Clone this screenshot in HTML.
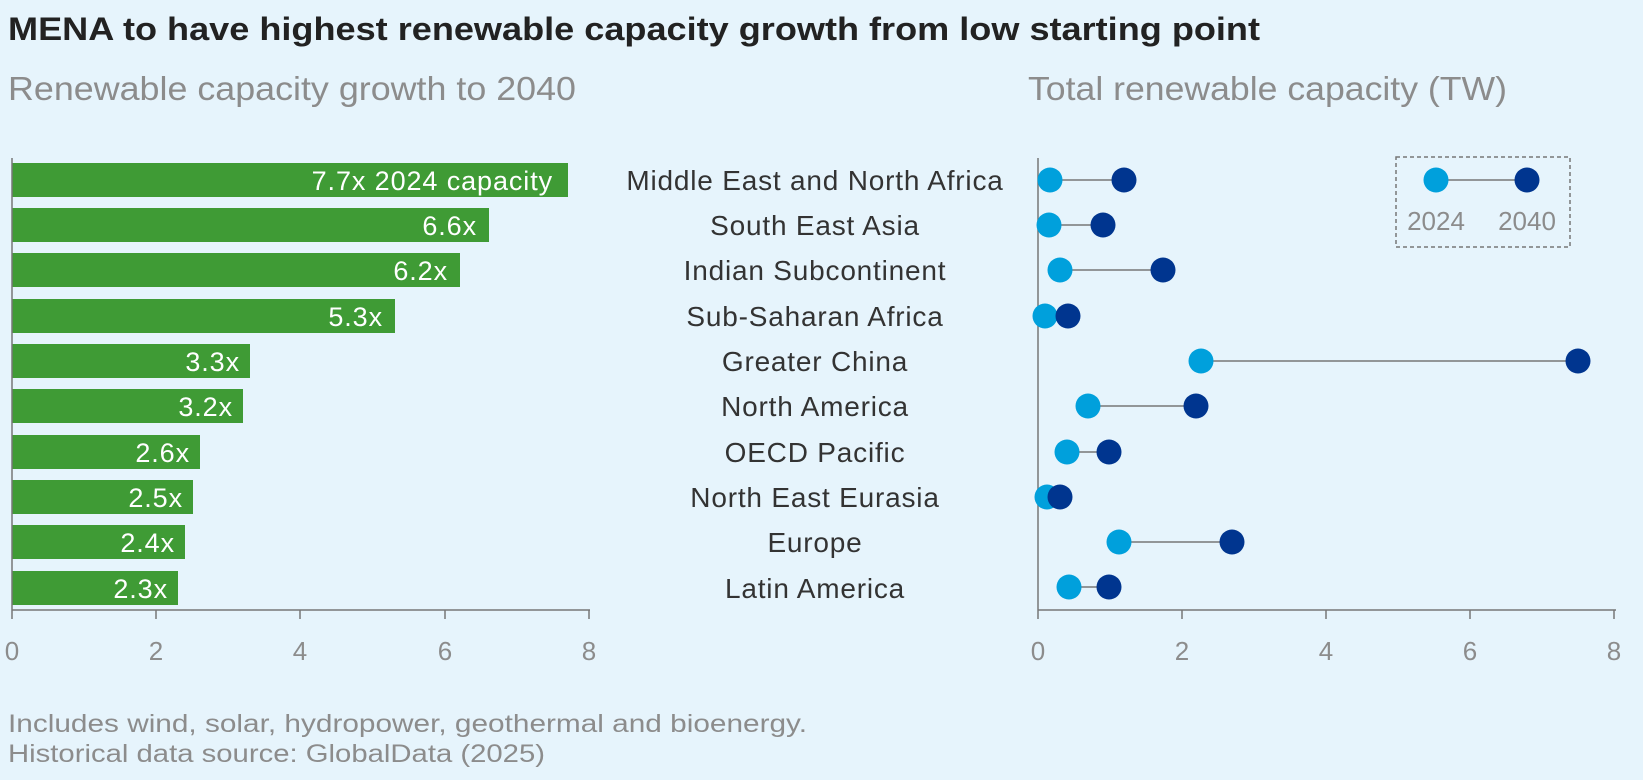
<!DOCTYPE html>
<html><head><meta charset="utf-8"><style>
html,body{margin:0;padding:0;background:#e6f4fc;}
svg{display:block;font-family:"Liberation Sans",sans-serif;}
</style></head><body>
<svg width="1643" height="780" viewBox="0 0 1643 780" xmlns="http://www.w3.org/2000/svg">
<rect width="1643" height="780" fill="#e6f4fc"/>
<text x="8" y="40" font-size="32" font-weight="bold" fill="#222" textLength="1252" lengthAdjust="spacingAndGlyphs">MENA to have highest renewable capacity growth from low starting point</text>
<text x="8" y="100" font-size="33" fill="#8c8c8c" textLength="568" lengthAdjust="spacingAndGlyphs">Renewable capacity growth to 2040</text>
<text x="1028" y="100" font-size="33" fill="#8c8c8c" textLength="479" lengthAdjust="spacingAndGlyphs">Total renewable capacity (TW)</text>
<g id="bars" fill="#3f9b35">
<rect x="12" y="163" width="556" height="34"/>
<rect x="12" y="208" width="477" height="34"/>
<rect x="12" y="253" width="448" height="34"/>
<rect x="12" y="299" width="383" height="34"/>
<rect x="12" y="344" width="238" height="34"/>
<rect x="12" y="389" width="231" height="34"/>
<rect x="12" y="435" width="188" height="34"/>
<rect x="12" y="480" width="181" height="34"/>
<rect x="12" y="525" width="173" height="34"/>
<rect x="12" y="571" width="166" height="34"/>
</g>
<g font-size="27" fill="#fff" text-anchor="end" letter-spacing="0.9">
<text x="553" y="190">7.7x 2024 capacity</text>
<text x="477" y="235">6.6x</text>
<text x="448" y="280">6.2x</text>
<text x="383" y="326">5.3x</text>
<text x="240" y="371">3.3x</text>
<text x="233" y="416">3.2x</text>
<text x="190" y="462">2.6x</text>
<text x="183" y="507">2.5x</text>
<text x="175" y="552">2.4x</text>
<text x="168" y="598">2.3x</text>
</g>
<g stroke="#777" stroke-width="1.5">
<line x1="12" y1="158" x2="12" y2="610"/>
<line x1="12" y1="610" x2="590" y2="610"/>
<line x1="12" y1="610" x2="12" y2="619"/><line x1="156" y1="610" x2="156" y2="619"/><line x1="300" y1="610" x2="300" y2="619"/><line x1="445" y1="610" x2="445" y2="619"/><line x1="589" y1="610" x2="589" y2="619"/>
<line x1="1038" y1="158" x2="1038" y2="610"/>
<line x1="1038" y1="610" x2="1616" y2="610"/>
<line x1="1038" y1="610" x2="1038" y2="619"/><line x1="1182" y1="610" x2="1182" y2="619"/><line x1="1326" y1="610" x2="1326" y2="619"/><line x1="1470" y1="610" x2="1470" y2="619"/><line x1="1614" y1="610" x2="1614" y2="619"/>
</g>
<g font-size="26" fill="#8c8c8c" text-anchor="middle">
<text x="12" y="660">0</text><text x="156" y="660">2</text><text x="300" y="660">4</text><text x="445" y="660">6</text><text x="589" y="660">8</text>
<text x="1038" y="660">0</text><text x="1182" y="660">2</text><text x="1326" y="660">4</text><text x="1470" y="660">6</text><text x="1614" y="660">8</text>
</g>
<g font-size="28" fill="#333" text-anchor="middle" letter-spacing="0.8">
<text x="815" y="190">Middle East and North Africa</text>
<text x="815" y="235">South East Asia</text>
<text x="815" y="280">Indian Subcontinent</text>
<text x="815" y="326">Sub-Saharan Africa</text>
<text x="815" y="371">Greater China</text>
<text x="815" y="416">North America</text>
<text x="815" y="462">OECD Pacific</text>
<text x="815" y="507">North East Eurasia</text>
<text x="815" y="552">Europe</text>
<text x="815" y="598">Latin America</text>
</g>
<g stroke="#777" stroke-width="1.5">
<line x1="1050" y1="180" x2="1124" y2="180"/>
<line x1="1049" y1="225" x2="1103" y2="225"/>
<line x1="1060" y1="270" x2="1163" y2="270"/>
<line x1="1045" y1="316" x2="1068" y2="316"/>
<line x1="1201" y1="361" x2="1578" y2="361"/>
<line x1="1088" y1="406" x2="1196" y2="406"/>
<line x1="1067" y1="452" x2="1109" y2="452"/>
<line x1="1047" y1="497" x2="1060" y2="497"/>
<line x1="1119" y1="542" x2="1232" y2="542"/>
<line x1="1069" y1="587" x2="1109" y2="587"/>
<line x1="1436" y1="180" x2="1527" y2="180"/>
</g>
<g fill="#00a0dc">
<circle cx="1050" cy="180" r="12.5"/><circle cx="1049" cy="225" r="12.5"/><circle cx="1060" cy="270" r="12.5"/><circle cx="1045" cy="316" r="12.5"/><circle cx="1201" cy="361" r="12.5"/><circle cx="1088" cy="406" r="12.5"/><circle cx="1067" cy="452" r="12.5"/><circle cx="1047" cy="497" r="12.5"/><circle cx="1119" cy="542" r="12.5"/><circle cx="1069" cy="587" r="12.5"/><circle cx="1436" cy="180" r="12.5"/>
</g>
<g fill="#00358f">
<circle cx="1124" cy="180" r="12.5"/><circle cx="1103" cy="225" r="12.5"/><circle cx="1163" cy="270" r="12.5"/><circle cx="1068" cy="316" r="12.5"/><circle cx="1578" cy="361" r="12.5"/><circle cx="1196" cy="406" r="12.5"/><circle cx="1109" cy="452" r="12.5"/><circle cx="1060" cy="497" r="12.5"/><circle cx="1232" cy="542" r="12.5"/><circle cx="1109" cy="587" r="12.5"/><circle cx="1527" cy="180" r="12.5"/>
</g>
<rect x="1396" y="157" width="174" height="90" fill="none" stroke="#777" stroke-width="1.5" stroke-dasharray="4,3"/>
<g font-size="26" fill="#8c8c8c" text-anchor="middle">
<text x="1436" y="230">2024</text><text x="1527" y="230">2040</text>
</g>
<g font-size="25" fill="#8c8c8c">
<text x="8" y="732" textLength="799" lengthAdjust="spacingAndGlyphs">Includes wind, solar, hydropower, geothermal and bioenergy.</text>
<text x="8" y="762" textLength="537" lengthAdjust="spacingAndGlyphs">Historical data source: GlobalData (2025)</text>
</g>
</svg>
</body></html>
